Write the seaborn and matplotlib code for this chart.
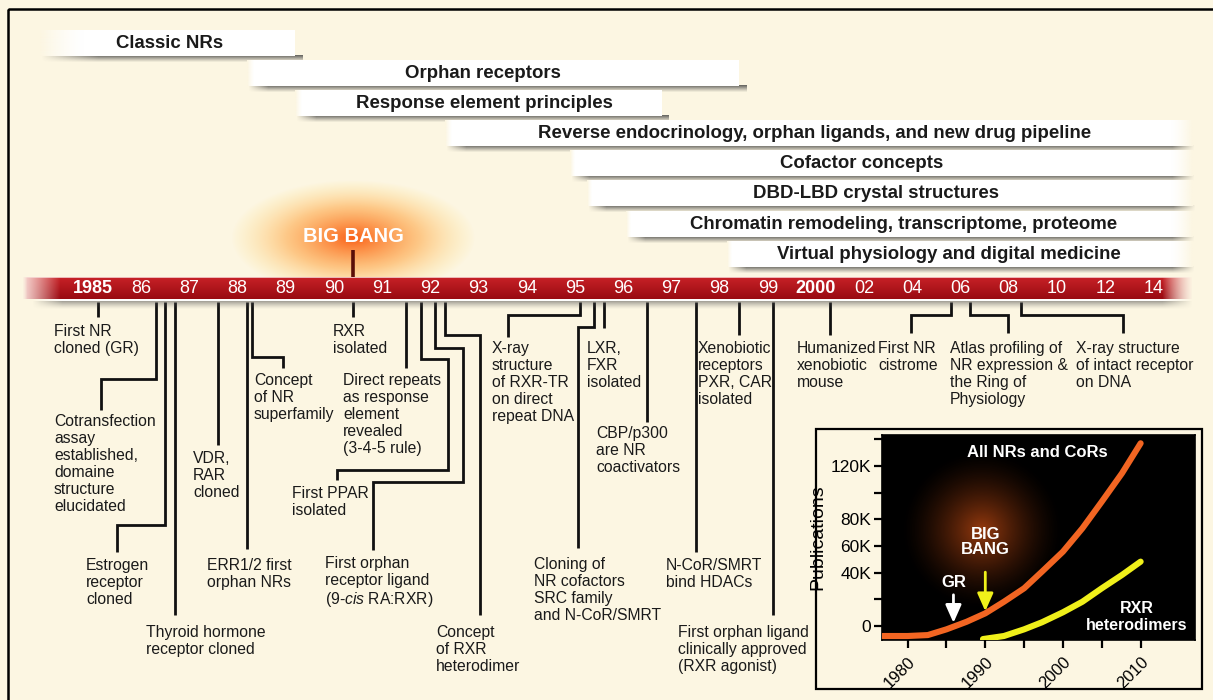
import numpy as np
import pandas as pd
import seaborn as sns
import matplotlib
matplotlib.use("Agg")
import matplotlib.pyplot as plt
from matplotlib.patches import Rectangle

sns.set_theme(style="white")
plt.rcParams['font.family'] = ['Liberation Sans', 'DejaVu Sans']
plt.rcParams['mathtext.fontset'] = 'custom'
plt.rcParams['mathtext.rm'] = 'Liberation Sans'
plt.rcParams['mathtext.it'] = 'Liberation Sans:italic'

# ---------------- DATA ----------------
tick_years = [1985, 1986, 1987, 1988, 1989, 1990, 1991, 1992, 1993, 1994, 1995,
              1996, 1997, 1998, 1999, 2000, 2002, 2004, 2006, 2008, 2010, 2012, 2014]
tick_labels = ["1985", "86", "87", "88", "89", "90", "91", "92", "93", "94", "95",
               "96", "97", "98", "99", "2000", "02", "04", "06", "08", "10", "12", "14"]
bold_ticks = ["1985", "2000"]

era_names = ["Classic NRs", "Orphan receptors", "Response element principles",
             "Reverse endocrinology, orphan ligands, and new drug pipeline",
             "Cofactor concepts", "DBD-LBD crystal structures",
             "Chromatin remodeling, transcriptome, proteome",
             "Virtual physiology and digital medicine"]
era_start = [1983.9, 1988.2, 1989.2, 1992.3, 1994.9, 1995.25, 1996.05, 1998.15]
era_end = [1989.2, 1998.4, 1996.8, 2015.6, 2015.6, 2015.6, 2015.6, 2015.6]

event_years = [1985.1, 1986.3, 1986.5, 1986.7, 1987.6, 1988.2, 1988.3, 1990.4,
               1991.5, 1991.8, 1992.1, 1992.3, 1995.1, 1995.4, 1995.6, 1996.5,
               1997.5, 1998.4, 1999.1, 2000.6, 2005.6, 2006.4, 2008.5]
event_labels = [
    "First NR\ncloned (GR)",
    "Cotransfection\nassay\nestablished,\ndomaine\nstructure\nelucidated",
    "Estrogen\nreceptor\ncloned",
    "Thyroid hormone\nreceptor cloned",
    "VDR,\nRAR\ncloned",
    "ERR1/2 first\norphan NRs",
    "Concept\nof NR\nsuperfamily",
    "RXR\nisolated",
    "Direct repeats\nas response\nelement\nrevealed\n(3-4-5 rule)",
    "First PPAR\nisolated",
    "First orphan\nreceptor ligand\n(9-$\\mathit{cis}$ RA:RXR)",
    "Concept\nof RXR\nheterodimer",
    "X-ray\nstructure\nof RXR-TR\non direct\nrepeat DNA",
    "Cloning of\nNR cofactors\nSRC family\nand N-CoR/SMRT",
    "LXR,\nFXR\nisolated",
    "CBP/p300\nare NR\ncoactivators",
    "N-CoR/SMRT\nbind HDACs",
    "Xenobiotic\nreceptors\nPXR, CAR\nisolated",
    "First orphan ligand\nclinically approved\n(RXR agonist)",
    "Humanized\nxenobiotic\nmouse",
    "First NR\ncistrome",
    "Atlas profiling of\nNR expression &\nthe Ring of\nPhysiology",
    "X-ray structure\nof intact receptor\non DNA",
]
big_bang_year = 1990.4

# inset: publications
all_years = [1976.8, 1980.0, 1982.6, 1985.0, 1987.6, 1990.0, 1992.4, 1995.0,
             1997.3, 2000.0, 2002.5, 2005.0, 2007.6, 2010.0]
all_pubs = [-7500, -7500, -6800, -2500, 3200, 9500, 18200, 28300,
            40800, 55800, 73300, 93300, 114600, 137100]
rxr_years = [1989.7, 1992.4, 1995.0, 1997.3, 2000.0, 2002.5, 2005.0, 2007.6, 2010.0]
rxr_pubs = [-9800, -7500, -2500, 2800, 10300, 18200, 28300, 38300, 48300]
inset_ytick_values = [0, 20000, 40000, 60000, 80000, 100000, 120000, 140000]
inset_ytick_labels = ["0", "", "40K", "60K", "80K", "", "120K", ""]
inset_xtick_major = [1980, 1990, 2000, 2010]
inset_xtick_minor = [1985, 1995, 2005]

# ---------------- LAYOUT ----------------
W, H = 1213, 700
BG = '#fcf6e2'
TXT = '#1a1a1a'
TL_X0, TL_STEP = 93.0, 48.2          # pixel of first tick, pixels per tick step

BAR_Y = [43, 73, 103, 133, 163, 193, 224, 254]
BAR_H = 26
BAR_TEXT_X = [170, 483, 484, 815, 862, 876, 904, 949]
FADE_L = [45, 8, 8, 8, 6, 6, 6, 6]
FADE_R = [0, 0, 0, 22, 22, 22, 22, 22]

TL_TOP, TL_BOT = 277, 299
TL_L, TL_R = 22, 1192
LINE_TOP = 302

ROUTES = [
    [(None, 317)],
    [(None, 379), (101, 379), (101, 410)],
    [(None, 525), (117, 525), (117, 552)],
    [(None, 615)],
    [(None, 445)],
    [(None, 549)],
    [(None, 357), (283, 357), (283, 368)],
    [(None, 317)],
    [(None, 368)],
    [(None, 359), (448, 359), (448, 470), (337, 470), (337, 480)],
    [(None, 348), (463, 348), (463, 482), (373, 482), (373, 550)],
    [(None, 335), (480, 335), (480, 615)],
    [(None, 315), (508, 315), (508, 337)],
    [(None, 327), (578, 327), (578, 548)],
    [(None, 328)],
    [(None, 422)],
    [(None, 552)],
    [(None, 335)],
    [(None, 615)],
    [(None, 335)],
    [(None, 315), (911, 315), (911, 333)],
    [(None, 315), (1008, 315), (1008, 333)],
    [(None, 315), (1123, 315), (1123, 333)],
]
TEXT_POS = [(54, 325), (54, 415), (86, 559), (146, 626), (193, 452), (207, 559),
            (254, 374), (333, 325), (343, 374), (292, 487), (325, 557), (436, 626),
            (492, 342), (534, 558), (587, 342), (596, 427), (666, 559), (698, 342),
            (678, 626), (797, 342), (878, 342), (950, 342), (1076, 342)]


def tl_index(year):
    y = np.asarray(year, float)
    ty = np.asarray(tick_years, float)
    idx = np.arange(len(ty), dtype=float)
    out = np.interp(y, ty, idx)
    out = np.where(y < ty[0], (y - ty[0]) / (ty[1] - ty[0]), out)
    out = np.where(y > ty[-1], idx[-1] + (y - ty[-1]) / (ty[-1] - ty[-2]), out)
    return out


def px(x):
    return (np.asarray(x, float) - TL_X0) / TL_STEP


def dpx(d):
    return d / TL_STEP


fig = plt.figure(figsize=(W / 100, H / 100), dpi=100, facecolor=BG)
ax = fig.add_axes([0, 0, 1, 1])
ax.set_facecolor(BG)
ax.axis('off')


def put_img(rgba, x0, x1, ytop, ybot, z):
    ax.imshow(rgba, extent=(x0, x1, ybot, ytop), origin='upper', aspect='auto',
              interpolation='bilinear', zorder=z)


bg_rgb = np.array(matplotlib.colors.to_rgb(BG))

# ---- Big Bang glow ----
gx_px = TL_X0 + float(tl_index(big_bang_year)) * TL_STEP
gxs = np.arange(215, 495)
gys = np.arange(165, 292)
GX, GY = np.meshgrid(gxs, gys)
r = np.sqrt(((GX - gx_px) / 122.0) ** 2 + ((GY - 238) / 58.0) ** 2)
c_in = np.array([0.98, 0.38, 0.10])
c_mid = np.array([1.0, 0.64, 0.24])
c_out = np.array([1.0, 0.90, 0.55])
t1 = np.clip(r / 0.55, 0, 1)[..., None]
t2 = np.clip((r - 0.55) / 0.45, 0, 1)[..., None]
col = c_in * (1 - t1) + c_mid * t1
col = col * (1 - t2) + c_out * t2
alpha = np.clip(1 - r, 0, 1) ** 0.75
put_img(np.dstack([col, alpha]), px(gxs[0]), px(gxs[-1]), gys[0], gys[-1], 1)
ax.plot([tl_index(big_bang_year)] * 2, [250, TL_TOP], color='#5a0e08', lw=2.6,
        solid_capstyle='butt', zorder=2)
ax.text(tl_index(big_bang_year), 237, "BIG BANG", color='white', fontsize=14.5,
        fontweight='bold', ha='center', va='center', zorder=3)

# ---- era bars ----
for i, name in enumerate(era_names):
    l = float(tl_index(era_start[i]))
    rr = float(tl_index(era_end[i]))
    yc = BAR_Y[i]
    wpx = int(round((rr - l) * TL_STEP)) + 6
    xs = np.arange(wpx)
    ha = np.ones(wpx)
    ha *= np.clip((xs + 1) / (FADE_L[i] + 12), 0, 1)
    if FADE_R[i] > 0:
        ha *= np.clip((wpx - 6 - xs) / FADE_R[i], 0, 1)
    # shadow below
    rows = 8
    va = np.linspace(0.8, 0.0, rows) ** 1.2
    sh = np.zeros((rows, wpx, 4))
    sh[..., :3] = 0.25
    sh[..., 3] = va[:, None] * ha[None, :]
    put_img(sh, l + dpx(2), l + dpx(2 + wpx), yc + BAR_H / 2 - 1, yc + BAR_H / 2 + 7, 2)
    ax.barh(yc, rr - l, left=l, height=BAR_H, color='white', edgecolor='none', zorder=3)
    # left fade
    fl = FADE_L[i]
    fimg = np.zeros((2, fl, 4))
    fimg[..., :3] = bg_rgb
    fimg[..., 3] = np.linspace(1, 0, fl)[None, :] ** 1.4
    put_img(fimg, l, l + dpx(fl), yc - BAR_H / 2, yc + BAR_H / 2, 3.5)
    if FADE_R[i] > 0:
        fr = FADE_R[i]
        rimg = np.zeros((2, fr, 4))
        rimg[..., :3] = bg_rgb
        rimg[..., 3] = np.linspace(0, 1, fr)[None, :] ** 1.4
        put_img(rimg, rr - dpx(fr), rr + dpx(0.5), yc - BAR_H / 2, yc + BAR_H / 2, 3.5)
    ax.text(px(BAR_TEXT_X[i]), yc + 0.5, name, ha='center', va='center', fontsize=13.4,
            fontweight='bold', color=TXT, zorder=5)

# ---- timeline bar ----
N = TL_R - TL_L
xs = np.arange(N) + TL_L
rows = TL_BOT - TL_TOP
v = np.linspace(0, 1, rows)
red_top = np.array([0.78, 0.13, 0.15])
red_bot = np.array([0.60, 0.04, 0.07])
colv = red_top[None, :] * (1 - v[:, None]) + red_bot[None, :] * v[:, None]
colv[0] = [0.93, 0.72, 0.72]
img = np.repeat(colv[:, None, :], N, axis=1)
light = np.array([0.97, 0.86, 0.84])
wl = np.clip((xs - TL_L) / 38.0, 0, 1) ** 1.1
wr = np.clip((TL_R - xs) / 30.0, 0, 1)
wmix = np.minimum(wl, wr)
img = light[None, None, :] * (1 - wmix)[None, :, None] + img * wmix[None, :, None]
alpha = np.clip((xs - TL_L) / 5.0, 0, 1) * wr ** 0.6
put_img(np.dstack([img, np.broadcast_to(alpha, (rows, N))]), px(TL_L), px(TL_R),
        TL_TOP, TL_BOT, 4)
# white line + shadow under bar
srows = 11
sh = np.zeros((srows, N, 4))
sh[:2, :, :3] = 1.0
sh[:2, :, 3] = 0.95
sh[2:, :, :3] = 0.30
sh[2:, :, 3] = (np.linspace(0.6, 0.0, srows - 2) ** 1.4)[:, None]
sh[..., 3] *= (np.clip((xs - TL_L - 10) / 30.0, 0, 1) * wr)[None, :]
put_img(sh, px(TL_L), px(TL_R), TL_BOT, TL_BOT + srows, 3.8)

for yr, lab in zip(tick_years, tick_labels):
    ax.text(tl_index(yr), (TL_TOP + TL_BOT) / 2 + 0.5, lab, color='white', fontsize=13,
            fontweight='bold' if lab in bold_ticks else 'normal',
            ha='center', va='center', zorder=5)

# ---- event leader lines and labels ----
for yr, lab, route, (tx, ty) in zip(event_years, event_labels, ROUTES, TEXT_POS):
    x0 = float(tl_index(yr))
    xsl, ysl = [x0], [LINE_TOP]
    for (rx, ry) in route:
        xsl.append(x0 if rx is None else float(px(rx)))
        ysl.append(ry)
    ax.plot(xsl, ysl, color='#111111', lw=2.0, solid_joinstyle='miter',
            solid_capstyle='butt', zorder=2)
    ax.text(px(tx), ty - 1, lab, ha='left', va='top', fontsize=11.3, color=TXT,
            linespacing=1.17, zorder=4)

# ---- outer frame ----
ax.add_patch(Rectangle((px(8), 9), px(1240) - px(8), 720, fill=False,
                       edgecolor='black', lw=1.8, zorder=6))
# inset frame
ax.add_patch(Rectangle((px(816), 429), px(1202) - px(816), 260, facecolor=BG,
                       edgecolor='black', lw=1.6, zorder=6))

ax.set_xlim(px(0), px(W))
ax.set_ylim(H, 0)

# ---------------- INSET ----------------
iax = fig.add_axes([882 / W, (H - 640) / H, (1195 - 882) / W, (640 - 435) / H])
iax.set_facecolor('black')
XL = (1976.7, 2017.0)
YL = (-10500, 143300)

# glow
gxv = np.linspace(1977, 2003, 220)
gyv = np.linspace(0, 140000, 220)
GX, GY = np.meshgrid(gxv, gyv)
rg = np.sqrt(((GX - 1989.6) / 10.5) ** 2 + ((GY - 72000) / 60000) ** 2)
gimg = np.zeros((220, 220, 4))
gimg[..., 0] = 0.62
gimg[..., 1] = 0.24
gimg[..., 2] = 0.06
gimg[..., 3] = np.clip(1 - rg, 0, 1) ** 1.5 * 0.95
iax.imshow(gimg, extent=(gxv[0], gxv[-1], gyv[0], gyv[-1]), origin='lower',
           aspect='auto', interpolation='bilinear', zorder=1)

df_all = pd.DataFrame({"year": all_years, "pubs": all_pubs})
df_rxr = pd.DataFrame({"year": rxr_years, "pubs": rxr_pubs})
sns.lineplot(data=df_all, x="year", y="pubs", ax=iax, color='#f26522', lw=4.4,
             legend=False, zorder=3, solid_capstyle='round', solid_joinstyle='round')
sns.lineplot(data=df_rxr, x="year", y="pubs", ax=iax, color='#f0f01a', lw=4.4,
             legend=False, zorder=3, solid_capstyle='round', solid_joinstyle='round')

iax.text(1996.7, 129800, "All NRs and CoRs", color='white', fontsize=12, fontweight='bold',
         ha='center', va='center', zorder=4)
iax.text(1990.0, 63000, "BIG\nBANG", color='white', fontsize=12, fontweight='bold',
         ha='center', va='center', linespacing=1.0, zorder=4)
iax.annotate('', xy=(1990.0, 9000), xytext=(1990.0, 42500),
             arrowprops=dict(arrowstyle='-|>,head_length=0.9,head_width=0.4',
                             color='#f0f01a', lw=2.0), zorder=4)
iax.text(1985.9, 33000, "GR", color='white', fontsize=12, fontweight='bold',
         ha='center', va='center', zorder=4)
iax.annotate('', xy=(1985.9, 300), xytext=(1985.9, 25500),
             arrowprops=dict(arrowstyle='-|>,head_length=0.9,head_width=0.4',
                             color='white', lw=2.0), zorder=4)
iax.text(2009.5, 6500, "RXR\nheterodimers", color='white', fontsize=11.5, fontweight='bold',
         ha='center', va='center', linespacing=1.15, zorder=4)

iax.set_xlim(*XL)
iax.set_ylim(*YL)
iax.set_xticks(inset_xtick_major)
iax.set_xticklabels([str(v) for v in inset_xtick_major], rotation=45, ha='right',
                    rotation_mode='anchor', fontsize=12, color='black')
iax.set_xticks(inset_xtick_minor, minor=True)
iax.set_yticks(inset_ytick_values)
iax.set_yticklabels(inset_ytick_labels, fontsize=12.5, color='black')
iax.tick_params(axis='both', which='both', direction='out', length=6, width=1.6,
                color='black', bottom=True, left=True, top=False, right=False, pad=2)
iax.tick_params(axis='x', which='major', pad=4)
for s in iax.spines.values():
    s.set_color('black')
    s.set_linewidth(1.2)
iax.set_xlabel('')
iax.set_ylabel('Publications', fontsize=14, color='black', labelpad=3)
iax.grid(False)

fig.savefig('out.png', dpi=100, facecolor=BG)
